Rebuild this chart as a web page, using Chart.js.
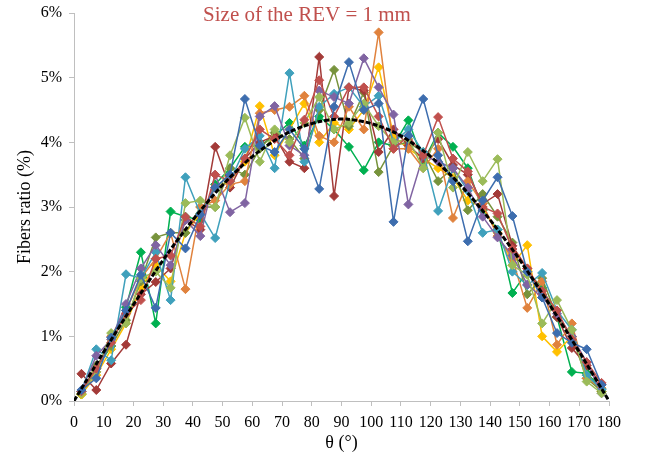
<!DOCTYPE html>
<html>
<head>
<meta charset="utf-8">
<script src="https://cdn.jsdelivr.net/npm/chart.js@4/dist/chart.umd.min.js"></script>
<style>
  html, body { margin: 0; padding: 0; background: #fff; }
  #wrap { width: 648px; height: 454px; }
</style>
</head>
<body>
<div id="wrap"><canvas id="myChart" width="648" height="454"></canvas></div>
<script>
// bin centres (degrees)
const thetas = [2.5, 7.5, 12.5, 17.5, 22.5, 27.5, 32.5, 37.5, 42.5, 47.5, 52.5, 57.5,
  62.5, 67.5, 72.5, 77.5, 82.5, 87.5, 92.5, 97.5, 102.5, 107.5, 112.5, 117.5,
  122.5, 127.5, 132.5, 137.5, 142.5, 147.5, 152.5, 157.5, 162.5, 167.5, 172.5, 177.5];

// fiber ratio (%) for each of the ten samples
const blue = [0.17, 0.35, 0.98, 1.40, 1.95, 1.44, 2.60, 2.36, 2.88, 3.30, 3.50, 4.67, 3.95, 3.85, 4.20, 3.90, 3.28, 4.55, 5.24, 4.50, 4.60, 2.77, 4.10, 4.67, 3.80, 3.40, 2.47, 3.10, 3.46, 2.86, 2.00, 1.60, 1.05, 0.90, 0.80, 0.25];
const red = [0.15, 0.50, 0.90, 1.35, 1.56, 2.20, 2.25, 2.85, 2.70, 3.50, 3.40, 3.75, 4.20, 4.05, 3.80, 4.35, 4.96, 4.40, 4.85, 4.85, 4.40, 3.90, 4.10, 3.80, 4.39, 3.75, 3.55, 3.00, 2.90, 2.35, 2.05, 1.70, 1.40, 0.95, 0.60, 0.28];
const olive = [0.12, 0.45, 1.05, 1.20, 1.90, 2.00, 1.75, 3.06, 3.10, 3.00, 3.80, 4.38, 3.70, 4.20, 4.00, 4.30, 4.70, 4.20, 4.30, 4.60, 4.25, 4.00, 4.05, 3.60, 4.15, 3.30, 3.85, 3.40, 3.74, 2.10, 1.95, 1.20, 1.56, 1.10, 0.30, 0.12];
const purple = [0.15, 0.70, 0.95, 1.50, 2.05, 2.41, 2.10, 2.80, 2.55, 3.50, 2.92, 3.06, 4.40, 4.56, 3.95, 3.80, 4.80, 4.70, 4.60, 5.30, 4.85, 4.43, 3.04, 3.80, 3.70, 3.60, 3.30, 2.85, 2.53, 2.25, 1.80, 1.60, 1.35, 1.00, 0.60, 0.12];
const teal = [0.15, 0.80, 0.63, 1.96, 1.90, 2.30, 1.56, 3.46, 2.90, 2.52, 3.40, 3.90, 4.10, 3.60, 5.07, 3.70, 4.55, 4.75, 4.85, 4.55, 4.72, 4.00, 4.20, 3.85, 2.94, 3.60, 3.25, 2.60, 2.65, 2.00, 1.79, 1.98, 1.40, 1.10, 0.40, 0.18];
const orange = [0.12, 0.45, 1.00, 1.40, 1.90, 2.20, 2.60, 1.73, 3.00, 3.10, 3.35, 3.40, 4.45, 4.50, 4.55, 4.72, 4.10, 4.00, 4.55, 4.20, 5.70, 3.90, 3.90, 3.60, 3.90, 2.83, 3.40, 3.05, 2.55, 2.20, 1.44, 1.85, 0.87, 1.20, 0.35, 0.20];
const darkRed = [0.42, 0.17, 0.58, 0.87, 1.65, 1.84, 2.05, 2.80, 2.65, 3.93, 3.30, 3.75, 4.00, 4.10, 3.70, 3.60, 5.32, 3.17, 4.85, 4.80, 3.85, 4.20, 3.95, 3.75, 4.05, 3.65, 3.50, 3.05, 3.20, 2.40, 2.05, 1.65, 1.30, 0.82, 0.55, 0.25];
const darkOlive = [0.15, 0.55, 0.85, 1.25, 1.85, 2.53, 2.60, 2.60, 3.00, 3.00, 3.60, 3.50, 3.90, 4.15, 4.05, 3.75, 4.50, 5.12, 4.25, 4.77, 3.54, 3.95, 4.00, 3.85, 3.40, 3.60, 2.95, 3.20, 2.85, 2.45, 1.65, 1.90, 1.30, 1.00, 0.35, 0.15];
const yellow = [0.10, 0.40, 0.80, 1.20, 1.75, 2.10, 1.85, 2.60, 2.90, 3.30, 3.40, 3.70, 4.56, 3.80, 4.20, 4.60, 4.00, 4.30, 4.20, 4.50, 5.16, 4.10, 3.90, 3.75, 3.60, 3.45, 3.10, 3.00, 2.60, 2.10, 2.41, 1.00, 0.76, 1.00, 0.40, 0.15];
const green = [0.10, 0.50, 0.85, 1.45, 2.30, 1.20, 2.93, 2.85, 2.80, 3.35, 3.60, 3.93, 3.95, 4.10, 4.30, 3.95, 4.40, 4.20, 3.93, 3.57, 4.00, 3.95, 4.34, 3.70, 4.15, 3.93, 3.60, 2.95, 2.65, 1.67, 2.00, 1.75, 1.30, 0.45, 0.43, 0.20];

// reference (theoretical) curve
const curveTheta = [0, 5, 10, 15, 20, 25, 30, 35, 40, 45, 50, 55, 60, 65, 70, 75, 80, 85, 90,
  95, 100, 105, 110, 115, 120, 125, 130, 135, 140, 145, 150, 155, 160, 165, 170, 175, 180];
const curveVals = [0, 0.38, 0.76, 1.13, 1.49, 1.84, 2.18, 2.50, 2.80, 3.08, 3.34, 3.57, 3.78, 3.95, 4.10, 4.21, 4.29, 4.34, 4.36,
  4.34, 4.29, 4.21, 4.10, 3.95, 3.78, 3.57, 3.34, 3.08, 2.80, 2.50, 2.18, 1.84, 1.49, 1.13, 0.76, 0.38, 0];

const yTicks = [0, 1, 2, 3, 4, 5, 6];

const series = [
  { data: blue, color: '#3D6DAE' },
  { data: red, color: '#C0504D' },
  { data: olive, color: '#9BBB59' },
  { data: purple, color: '#8064A2' },
  { data: teal, color: '#3FA0BC' },
  { data: orange, color: '#E0823D' },
  { data: darkRed, color: '#A33A38' },
  { data: darkOlive, color: '#77933C' },
  { data: yellow, color: '#FFC000' },
  { data: green, color: '#00B050' }
];

const serif = "'Liberation Serif', 'Times New Roman', serif";

const datasets = series.map((s, i) => ({
  label: 'S' + (i + 1),
  data: thetas.map((t, j) => ({ x: t, y: s.data[j] })),
  borderColor: s.color,
  backgroundColor: s.color,
  borderWidth: 1.5,
  pointStyle: 'rectRot',
  pointRadius: 4.5,
  pointBorderWidth: 1,
  tension: 0,
  order: 1
}));

datasets.push({
  label: 'curve',
  data: curveTheta.map((t, j) => ({ x: t, y: curveVals[j] })),
  borderColor: '#000',
  borderWidth: 3,
  borderDash: [5, 2],
  pointRadius: 0,
  tension: 0.4,
  order: 0
});

const titlePlugin = {
  id: 'revTitle',
  afterDraw(chart) {
    const ctx = chart.ctx;
    ctx.save();
    ctx.font = "21px " + serif;
    ctx.fillStyle = '#C0504D';
    ctx.textAlign = 'center';
    ctx.textBaseline = 'middle';
    ctx.fillText('Size of the REV = 1 mm', 307, 15);
    ctx.restore();
  }
};

new Chart(document.getElementById('myChart').getContext('2d'), {
  type: 'line',
  data: { datasets: datasets },
  options: {
    responsive: false,
    animation: false,
    layout: { padding: { left: 0, right: 39, top: 13, bottom: 0 } },
    plugins: { legend: { display: false }, tooltip: { enabled: false } },
    scales: {
      x: {
        type: 'linear',
        min: 0,
        max: 180,
        afterFit: (scale) => { scale.height = 53; scale.paddingLeft = 0; scale.paddingRight = 0; },
        ticks: { stepSize: 10, color: '#000', font: { family: serif, size: 16 }, padding: 7, maxRotation: 0 },
        grid: { drawOnChartArea: false, drawTicks: true, tickLength: 5, color: '#BFBFBF' },
        border: { display: true, color: '#BFBFBF', width: 1 },
        title: { display: true, text: 'θ (°)', color: '#000', font: { family: serif, size: 18 }, padding: { top: 0, bottom: 0 } }
      },
      y: {
        min: 0,
        max: 6,
        afterFit: (scale) => { scale.width = 74; scale.paddingTop = 0; scale.paddingBottom = 0; },
        afterBuildTicks: (scale) => { scale.ticks = yTicks.map(v => ({ value: v })); },
        ticks: { color: '#000', font: { family: serif, size: 16 }, padding: 7, callback: (v) => v + '%' },
        grid: { drawOnChartArea: false, drawTicks: true, tickLength: 5, color: '#BFBFBF' },
        border: { display: true, color: '#BFBFBF', width: 1 },
        title: { display: true, text: 'Fibers ratio (%)', color: '#000', font: { family: serif, size: 18 }, padding: { top: 14, bottom: 0 } }
      }
    }
  },
  plugins: [titlePlugin]
});
</script>
</body>
</html>
